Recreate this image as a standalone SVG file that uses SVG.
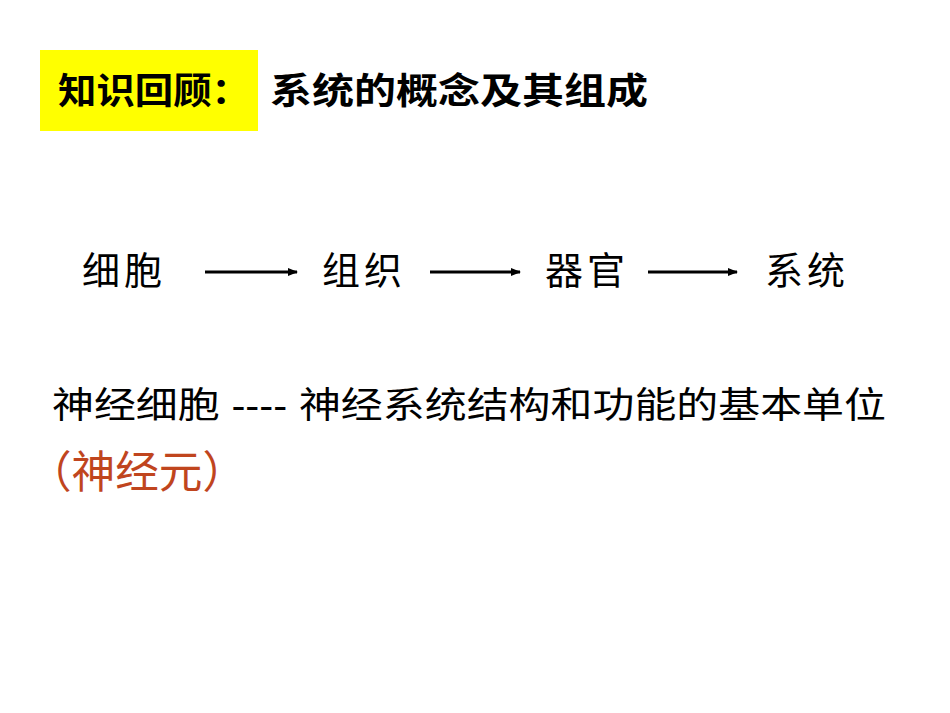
<svg xmlns="http://www.w3.org/2000/svg" width="950" height="713" viewBox="0 0 950 713">
<style>
.t{font-family:"Liberation Sans","Noto Sans CJK SC",sans-serif;fill:#000}
.b{font-weight:bold;font-size:36px}
.n{font-size:38px}
</style>
<defs><marker id="a" markerWidth="10" markerHeight="8" refX="9" refY="4" orient="auto" markerUnits="userSpaceOnUse"><path d="M0,0L10,4L0,8z" fill="#000"/></marker></defs>
<rect width="950" height="713" fill="#fff"/>
<g id="title">
<rect x="40" y="50" width="218" height="81" fill="#ffff00"/>
<text class="t b" x="58" y="104" textLength="192" lengthAdjust="spacingAndGlyphs">知识回顾：</text>
<text class="t b" x="270" y="104" textLength="378" lengthAdjust="spacingAndGlyphs">系统的概念及其组成</text>
</g>
<g id="n1"><text class="t n" x="82" y="284" textLength="80">细胞</text></g>
<g id="n2"><text class="t n" x="322" y="284" textLength="80">组织</text></g>
<g id="n3"><text class="t n" x="545" y="284" textLength="80">器官</text></g>
<g id="n4"><text class="t n" x="765" y="284" textLength="80">系统</text></g>
<g id="connectors" stroke="#000" stroke-width="3">
<line x1="205" y1="272" x2="297" y2="272" marker-end="url(#a)"/>
<line x1="430" y1="272" x2="520" y2="272" marker-end="url(#a)"/>
<line x1="648" y1="272" x2="737" y2="272" marker-end="url(#a)"/>
</g>
<g id="def">
<text class="t" x="52" y="418" font-size="36" textLength="834" lengthAdjust="spacingAndGlyphs">神经细胞 ---- 神经系统结构和功能的基本单位</text>
<text class="t" x="28" y="488" font-size="44" style="fill:#c0451e" textLength="218" lengthAdjust="spacingAndGlyphs">（神经元）</text>
</g>
</svg>
